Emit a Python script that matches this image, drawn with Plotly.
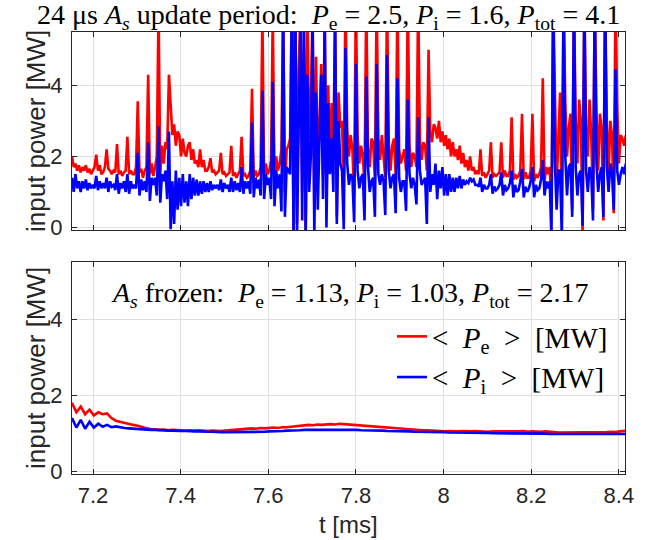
import numpy as np
import plotly.graph_objects as go

# ---------------- data ----------------
# top panel: 24 us A_s update period, sampled every DT_TOP ms starting at T0_TOP
T0_TOP = 7.152
DT_TOP = 0.00395
red_top = [
    2.0, 1.7, 1.8, 1.6, 1.75, 1.55,
    1.7, 1.6, 1.75, 1.55, 1.65, 1.5,
    1.6, 1.7, 2.05, 1.6, 1.75, 1.5,
    1.55, 1.7, 2.2, 1.65, 1.6, 1.5,
    1.6, 1.55, 2.35, 1.5, 1.6, 1.45,
    1.55, 1.6, 2.55, 1.5, 1.6, 1.5,
    1.5, 1.7, 3.55, 1.55, 1.65, 1.4,
    1.6, 1.7, 4.3, 1.5, 1.8, 1.45,
    1.7, 2.0, 6.2, 1.5, 2.3, 1.8,
    2.4, 2.2, 4.3, 3.3, 2.6, 2.9,
    2.3, 2.7, 2.6, 2.0, 2.5, 2.1,
    2.0, 2.3, 2.4, 1.9, 2.2, 1.8,
    1.9, 1.7, 2.2, 1.7, 1.9, 1.6,
    1.6, 1.7, 1.95, 1.55, 1.6, 1.5,
    1.55, 1.6, 2.1, 1.5, 1.55, 1.45,
    1.5, 1.55, 2.3, 1.45, 1.55, 1.4,
    1.5, 1.6, 2.55, 1.45, 1.5, 1.4,
    1.45, 1.6, 3.9, 1.4, 1.6, 1.45,
    1.5, 1.7, 6.0, 1.3, 1.8, 1.5,
    1.6, 1.9, 6.0, 1.2, 2.0, 1.6,
    1.8, 2.2, 6.2, 1.0, 2.2, 2.3,
    2.5, 6.5, -0.2, 6.5, 0.1, 4.5,
    6.2, 1.0, 5.0, -0.2, 6.0, 2.5,
    3.5, 6.0, 0.5, 4.8, 1.5, 3.0,
    4.6, 1.5, 6.0, 0.5, 4.0, 2.0,
    3.5, 2.2, 6.0, 0.3, 3.8, 2.8,
    3.0, 1.0, 6.5, 2.8, 2.0, 2.6,
    2.2, 0.9, 6.5, 2.6, 1.8, 2.3,
    2.0, 1.2, 6.5, 2.2, 1.7, 2.5,
    2.4, 1.3, 6.5, 2.5, 1.9, 2.6,
    2.1, 1.4, 6.5, 2.4, 1.6, 2.3,
    2.5, 1.5, 6.5, 2.2, 1.8, 2.0,
    2.2, 1.6, 6.5, 2.3, 1.7, 2.1,
    2.0, 1.7, 6.5, 2.5, 1.9, 2.4,
    2.3, 1.6, 5.0, 2.7, 2.4, 2.9,
    2.8, 2.5, 3.0, 2.4, 2.7, 2.3,
    2.6, 2.2, 2.5, 2.0, 2.4, 2.0,
    2.2, 1.9, 2.3, 1.8, 2.1, 1.7,
    1.9, 1.6, 2.0, 1.6, 1.7, 1.5,
    1.6, 1.5, 2.2, 1.45, 1.55, 1.4,
    1.5, 1.6, 2.4, 1.4, 1.5, 1.45,
    1.5, 1.55, 2.4, 1.4, 1.6, 1.45,
    1.45, 1.6, 3.1, 1.35, 1.5, 1.4,
    1.45, 1.6, 3.2, 1.35, 1.55, 1.4,
    1.4, 1.6, 3.2, 1.3, 1.5, 1.4,
    1.5, 1.7, 4.2, 1.3, 1.7, 1.5,
    1.7, 0.5, 6.5, 4.3, 1.2, 2.5,
    3.8, 0.3, 6.5, 3.5, 2.0, 2.8,
    3.2, 0.5, 6.5, 3.0, 1.8, 3.6,
    3.0, -0.2, 6.5, 2.8, 2.0, 3.6,
    2.6, 0.5, 6.5, 3.3, 1.6, 3.2,
    2.8, 0.2, 6.5, 3.0, 1.5, 3.0,
    2.6, 0.4, 6.5, 3.4, 1.8, 2.6,
    2.5, 2.3, 2.6, 2.4, 2.5, 2.4,
]
blue_top = [
    1.4, 1.0, 1.5, 1.1, 1.3, 1.0,
    1.3, 1.1, 1.35, 1.05, 1.25, 1.1,
    1.2, 1.1, 1.45, 1.05, 1.3, 1.1,
    1.25, 1.1, 1.4, 1.0, 1.3, 1.15,
    1.2, 1.05, 1.5, 0.95, 1.25, 1.1,
    1.3, 1.0, 1.5, 0.95, 1.3, 1.1,
    1.2, 1.1, 2.1, 0.9, 1.35, 1.05,
    1.3, 1.0, 2.4, 0.75, 1.4, 1.2,
    1.4, 0.9, 2.85, 0.7, 1.5, 1.3,
    1.6, 0.8, 2.7, -0.05, 1.3, 0.1,
    1.6, 0.5, 1.4, 0.6, 1.5, 0.7,
    1.3, 0.6, 1.5, 0.8, 1.4, 0.9,
    1.35, 0.9, 1.3, 0.95, 1.3, 1.0,
    1.25, 1.0, 1.3, 1.05, 1.2, 1.1,
    1.2, 1.05, 1.35, 1.0, 1.25, 1.1,
    1.2, 1.0, 1.4, 1.0, 1.3, 1.05,
    1.25, 1.0, 1.7, 0.95, 1.3, 1.1,
    1.3, 0.95, 2.95, 0.85, 1.4, 1.1,
    1.35, 0.9, 3.85, 0.8, 1.5, 1.2,
    1.4, 0.8, 4.1, 0.6, 1.6, 1.1,
    1.5, 0.45, 6.2, 0.3, 1.7, 1.6,
    1.5, 6.5, -0.3, 6.5, -0.2, 3.0,
    5.5, 0.2, 6.5, -0.3, 4.3, 1.0,
    2.0, 6.0, -0.2, 3.8, 0.5, 2.5,
    4.3, 0.8, 6.0, 0.0, 3.5, 1.5,
    2.5, 1.0, 6.0, 0.1, 3.0, 1.8,
    1.6, -0.05, 5.05, 1.8, 1.2, 1.5,
    1.4, 0.15, 4.6, 1.6, 1.1, 1.4,
    1.5, 0.2, 4.25, 1.7, 1.0, 1.3,
    1.4, 0.3, 4.6, 1.5, 1.2, 1.5,
    1.3, 0.35, 4.85, 1.6, 1.1, 1.4,
    1.5, 0.4, 4.2, 1.4, 1.0, 1.3,
    1.3, 0.47, 3.6, 1.5, 1.1, 1.4,
    1.2, 0.65, 3.1, 1.6, 1.2, 1.3,
    1.4, 0.1, 3.1, 1.0, 1.5, 1.2,
    1.8, 0.8, 1.6, 1.1, 1.7, 0.9,
    1.5, 0.9, 1.5, 1.0, 1.4, 1.0,
    1.4, 1.1, 1.45, 1.1, 1.35, 1.2,
    1.3, 1.25, 1.4, 1.3, 1.35, 1.2,
    1.2, 1.15, 1.4, 1.0, 1.2, 1.1,
    1.1, 1.2, 1.5, 0.95, 1.15, 1.05,
    1.1, 1.2, 1.55, 0.9, 1.2, 1.05,
    1.1, 1.25, 1.6, 0.85, 1.2, 1.0,
    1.05, 1.3, 1.65, 0.85, 1.15, 1.0,
    1.1, 1.3, 1.7, 0.85, 1.2, 1.05,
    1.1, 1.35, 1.9, 0.9, 1.3, 1.1,
    1.3, -0.3, 6.5, 1.8, 0.5, 1.6,
    1.6, -0.3, 6.5, 2.0, 0.9, 1.7,
    1.8, 0.3, 6.5, 1.7, 0.9, 1.5,
    1.6, 0.05, 6.5, 1.6, 1.0, 1.7,
    1.5, 0.2, 6.5, 1.8, 1.0, 1.5,
    1.7, 0.3, 6.5, 1.7, 1.0, 1.8,
    1.5, 0.5, 4.45, 1.6, 1.2, 1.5,
    1.7, 1.5, 1.8, 1.6, 1.7, 1.6,
]

# bottom panel: A_s frozen, sampled every DT_BOT ms starting at T0_BOT
T0_BOT = 7.152
DT_BOT = 0.01
red_bot = [
    1.80, 1.55, 1.70, 1.50, 1.62, 1.47, 1.55, 1.50, 1.52, 1.40,
    1.33, 1.30, 1.27, 1.25, 1.22, 1.20, 1.16, 1.13, 1.11, 1.10,
    1.09, 1.10, 1.08, 1.09, 1.08, 1.08, 1.07, 1.08, 1.07, 1.08,
    1.07, 1.06, 1.07, 1.06, 1.06, 1.07, 1.08, 1.09, 1.10, 1.11,
    1.12, 1.13, 1.12, 1.14, 1.13, 1.14, 1.15, 1.14, 1.16, 1.16,
    1.17, 1.18, 1.19, 1.21, 1.22, 1.21, 1.23, 1.22, 1.23, 1.24,
    1.23, 1.25, 1.24, 1.23, 1.22, 1.21, 1.20, 1.19, 1.18, 1.17,
    1.17, 1.16, 1.15, 1.14, 1.13, 1.12, 1.11, 1.10, 1.10, 1.09,
    1.08, 1.08, 1.07, 1.06, 1.06, 1.05, 1.06, 1.05, 1.05, 1.06,
    1.05, 1.05, 1.06, 1.05, 1.05, 1.04, 1.05, 1.05, 1.04, 1.05,
    1.05, 1.04, 1.05, 1.06, 1.04, 1.05, 1.04, 1.04, 1.05, 1.03,
    1.03, 1.02, 1.02, 1.03, 1.02, 1.02, 1.03, 1.02, 1.03, 1.03,
    1.02, 1.03, 1.03, 1.04, 1.03, 1.05, 1.06, 1.07,
]
blue_bot = [
    1.40, 1.15, 1.35, 1.12, 1.30, 1.15, 1.25, 1.17, 1.22, 1.16,
    1.18, 1.15, 1.14, 1.13, 1.12, 1.11, 1.10, 1.10, 1.09, 1.09,
    1.08, 1.08, 1.07, 1.07, 1.06, 1.06, 1.06, 1.05, 1.05, 1.05,
    1.04, 1.04, 1.04, 1.03, 1.03, 1.03, 1.03, 1.03, 1.03, 1.04,
    1.03, 1.04, 1.03, 1.04, 1.04, 1.05, 1.05, 1.06, 1.06, 1.07,
    1.07, 1.08, 1.08, 1.09, 1.09, 1.10, 1.10, 1.10, 1.10, 1.10,
    1.10, 1.10, 1.10, 1.09, 1.09, 1.09, 1.08, 1.08, 1.08, 1.07,
    1.07, 1.07, 1.06, 1.06, 1.06, 1.05, 1.05, 1.05, 1.04, 1.04,
    1.04, 1.04, 1.03, 1.03, 1.03, 1.03, 1.02, 1.02, 1.02, 1.02,
    1.02, 1.01, 1.01, 1.01, 1.01, 1.01, 1.00, 1.00, 1.00, 1.00,
    1.00, 1.00, 0.99, 0.99, 0.99, 0.99, 0.99, 0.99, 0.99, 0.98,
    0.98, 0.98, 0.98, 0.98, 0.98, 0.98, 0.98, 0.98, 0.98, 0.98,
    0.98, 0.98, 0.98, 0.98, 0.98, 0.98, 0.98, 0.98,
]

x_ticks = [7.2, 7.4, 7.6, 7.8, 8.0, 8.2, 8.4]
x_tick_labels = ["7.2", "7.4", "7.6", "7.8", "8", "8.2", "8.4"]
y_ticks = [0, 2, 4]
y_tick_labels = ["0", "2", "4"]
x_range = [7.152, 8.414]
y_range = [-0.07, 5.5]

SP = "&nbsp;"
EQ = SP + "=" + SP
title_top = ("24 μs <i>A</i><sub><i>s</i></sub> update period:" + SP + " "
             "<i>P</i><sub>e</sub>" + EQ + "2.5," + SP + "<i>P</i><sub>i</sub>" + EQ + "1.6,"
             + SP + "<i>P</i><sub>tot</sub>" + EQ + "4.1")
title_bot = ("<i>A</i><sub><i>s</i></sub> frozen:" + SP + " "
             "<i>P</i><sub>e</sub>" + EQ + "1.13," + SP + "<i>P</i><sub>i</sub>" + EQ + "1.03,"
             + SP + "<i>P</i><sub>tot</sub>" + EQ + "2.17")
legend_e = "&lt;" + SP + " <i>P</i><sub>e</sub>" + SP + " &gt;" + SP + " [MW]"
legend_i = "&lt;" + SP + " <i>P</i><sub>i</sub>" + SP + " &gt;" + SP + " [MW]"
y_label = "input power [MW]"
x_label = "t [ms]"

RED = "#ff0000"
BLUE = "#0000ff"

# ---------------- figure ----------------
t_top = T0_TOP + DT_TOP * np.arange(len(red_top))
t_bot = T0_BOT + DT_BOT * np.arange(len(red_bot))

W, H = 659, 540
fig = go.Figure()
fig.add_trace(go.Scatter(x=t_top, y=red_top, mode="lines", line=dict(color=RED, width=2.6),
                         xaxis="x", yaxis="y", showlegend=False))
fig.add_trace(go.Scatter(x=t_top, y=blue_top, mode="lines", line=dict(color=BLUE, width=2.6),
                         xaxis="x", yaxis="y", showlegend=False))
fig.add_trace(go.Scatter(x=t_bot, y=red_bot, mode="lines", line=dict(color=RED, width=2.6),
                         xaxis="x2", yaxis="y2", name=legend_e, legendgroup="e"))
fig.add_trace(go.Scatter(x=t_bot, y=blue_bot, mode="lines", line=dict(color=BLUE, width=2.6),
                         xaxis="x2", yaxis="y2", name=legend_i, legendgroup="i"))

SANS = "Liberation Sans, Arial, Helvetica, sans-serif"
SERIF = "Liberation Serif, Times New Roman, serif"
DARK = "#262626"

axis_common = dict(
    showline=True, linecolor=DARK, linewidth=1, mirror="ticks",
    ticks="inside", ticklen=5, tickcolor=DARK, tickwidth=1,
    showgrid=True, gridcolor="#dfdfdf", gridwidth=1, zeroline=False,
    tickfont=dict(family=SANS, size=22, color=DARK), automargin=False,
)

xdom = [72 / W, 625 / W]
fig.update_layout(
    width=W, height=H,
    margin=dict(l=0, r=0, t=0, b=0),
    paper_bgcolor="white", plot_bgcolor="white",
    xaxis=dict(domain=xdom, range=x_range, tickvals=x_ticks, ticktext=x_tick_labels,
               showticklabels=False, anchor="y", **axis_common),
    yaxis=dict(domain=[1 - 230 / H, 1 - 32 / H], range=y_range, tickvals=y_ticks,
               ticktext=y_tick_labels, anchor="x", ticklabelstandoff=4, **axis_common),
    xaxis2=dict(domain=xdom, range=x_range, tickvals=x_ticks, ticktext=x_tick_labels,
                anchor="y2", ticklabelstandoff=2, **axis_common),
    yaxis2=dict(domain=[1 - 474 / H, 1 - 262 / H], range=y_range, tickvals=y_ticks,
                ticktext=y_tick_labels, anchor="x2", ticklabelstandoff=4, **axis_common),
    legend=dict(x=392 / W, y=1 - 311 / H, xanchor="left", yanchor="top",
                bgcolor="rgba(0,0,0,0)", borderwidth=0, tracegroupgap=0,
                font=dict(family=SERIF, size=29, color="black")),
    showlegend=True,
)

fig.add_annotation(text=title_top, x=328 / W, y=1 - 16 / H, xref="paper", yref="paper",
                   xanchor="center", yanchor="middle", showarrow=False,
                   font=dict(family=SERIF, size=28, color="black"))
fig.add_annotation(text=title_bot, x=350 / W, y=1 - 294 / H, xref="paper", yref="paper",
                   xanchor="center", yanchor="middle", showarrow=False,
                   font=dict(family=SERIF, size=28, color="black"))
for yc in (131, 368):
    fig.add_annotation(text=y_label, x=36 / W, y=1 - yc / H, xref="paper", yref="paper",
                       xanchor="center", yanchor="middle", textangle=-90, showarrow=False,
                       font=dict(family=SANS, size=26, color=DARK))
fig.add_annotation(text=x_label, x=348 / W, y=1 - 524 / H, xref="paper", yref="paper",
                   xanchor="center", yanchor="middle", showarrow=False,
                   font=dict(family=SANS, size=24, color=DARK))

fig.write_html("out.html")
